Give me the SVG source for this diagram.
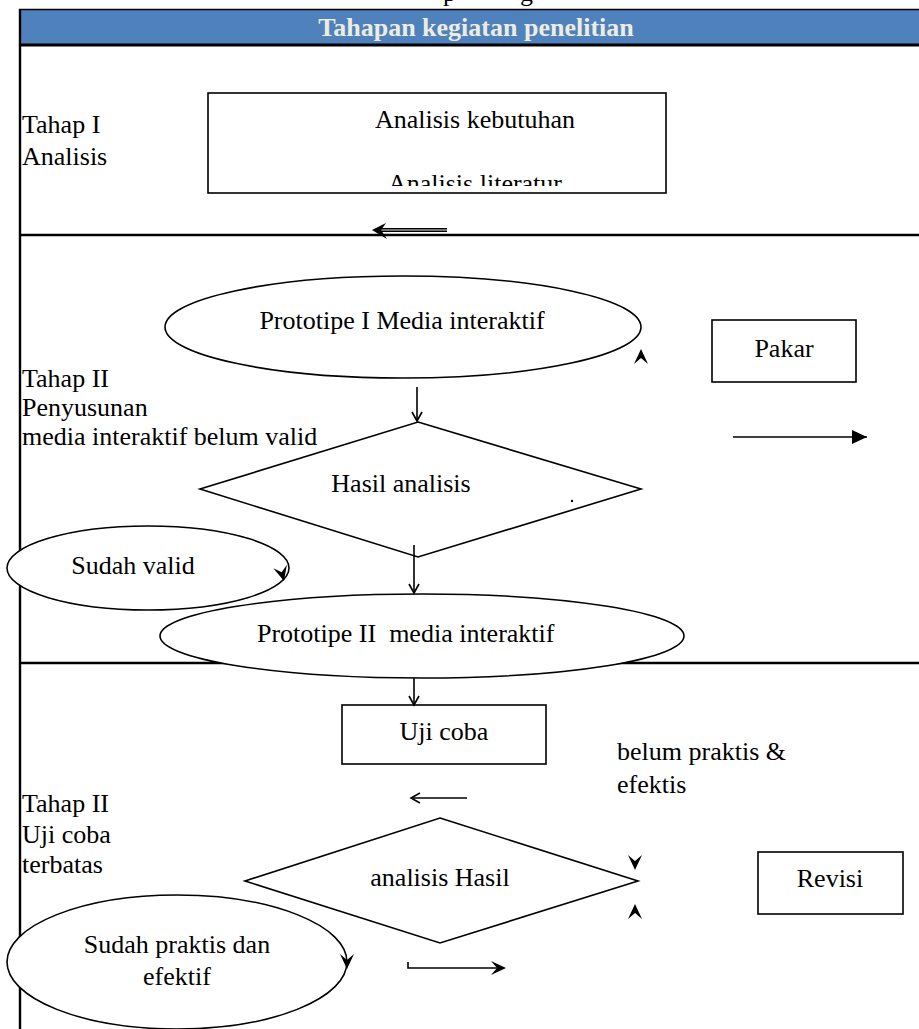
<svg xmlns="http://www.w3.org/2000/svg" width="919" height="1029" viewBox="0 0 919 1029" font-family="Liberation Serif, Times New Roman, serif">
<defs>
<style>
.t{font-size:26px;fill:#000}
.c{text-anchor:middle}
.s{fill:#fff;stroke:#000;stroke-width:1.6}
.ln{stroke:#000;stroke-width:1.6;fill:none}
.frame{stroke:#000;stroke-width:2.4;fill:none}
</style>
<marker id="open" markerUnits="userSpaceOnUse" markerWidth="14" markerHeight="14" refX="10" refY="6" orient="auto">
<path d="M1,1 L10,6 L1,11" fill="none" stroke="#000" stroke-width="1.6"/>
</marker>
<marker id="tri" markerUnits="userSpaceOnUse" markerWidth="16" markerHeight="16" refX="15" refY="8" orient="auto">
<path d="M0,1 L15,8 L0,15 Z" fill="#000"/>
</marker>
<path id="stealth" d="M0,0 L-7,-15 L0,-9 L7,-15 Z" fill="#000"/>
<clipPath id="boxclip"><rect x="208" y="93" width="458" height="93"/></clipPath>
</defs>
<rect x="0" y="0" width="919" height="1029" fill="#fff"/>

<g id="caption-fragment">
<text class="t" font-family="Liberation Serif, serif" x="443" y="1">p</text>
<text class="t" font-family="Liberation Serif, serif" x="520" y="1">g</text>
</g>

<g id="frame">
<rect x="20" y="10" width="899" height="35" fill="#4F81BD"/>
<line stroke="#000" stroke-width="1.6" x1="19" y1="9.5" x2="919" y2="9.5"/>
<line stroke="#000" stroke-width="3" x1="20" y1="45" x2="919" y2="45"/>
<line class="frame" x1="20" y1="9" x2="20" y2="1029"/>
<line class="frame" x1="20" y1="235" x2="919" y2="235"/>
<line class="frame" x1="20" y1="663" x2="919" y2="663"/>
<text x="476" y="36" text-anchor="middle" font-family="Liberation Serif, serif" font-size="26" font-weight="bold" fill="#EEECE1">Tahapan kegiatan penelitian</text>
</g>

<g id="labels" font-family="Liberation Serif, serif">
<text class="t" x="22" y="133">Tahap I</text>
<text class="t" x="22" y="165">Analisis</text>
<text class="t" x="22" y="387">Tahap II</text>
<text class="t" x="22" y="416">Penyusunan</text>
<text class="t" x="22" y="445">media interaktif belum valid</text>
<text class="t" x="22" y="812">Tahap II</text>
<text class="t" x="22" y="843">Uji coba</text>
<text class="t" x="22" y="873">terbatas</text>
<text class="t" x="617" y="760">belum praktis &amp;</text>
<text class="t" x="617" y="793">efektis</text>
</g>

<g id="node-analisis" font-family="Liberation Serif, serif">
<rect class="s" x="208" y="93" width="458" height="100"/>
<text class="t c" x="475" y="128" font-size="25">Analisis kebutuhan</text>
<text class="t c" x="475" y="192" font-size="25" clip-path="url(#boxclip)">Analisis literatur</text>
</g>

<g id="node-prototipe1" font-family="Liberation Serif, serif">
<ellipse class="s" cx="403" cy="327" rx="238" ry="51"/>
<text class="t c" x="402" y="329">Prototipe I Media interaktif</text>
</g>

<g id="node-pakar" font-family="Liberation Serif, serif">
<rect class="s" x="712" y="320" width="144" height="62"/>
<text class="t c" x="784" y="357">Pakar</text>
</g>

<g id="node-hasil-analisis" font-family="Liberation Serif, serif">
<polygon class="s" points="418,422 641,489 418,557 200,489"/>
<text class="t c" x="401" y="492">Hasil analisis</text>
<circle cx="572" cy="501" r="1.2" fill="#000"/>
</g>

<g id="node-sudah-valid" font-family="Liberation Serif, serif">
<ellipse class="s" cx="148" cy="568" rx="141" ry="42"/>
<text class="t c" x="133" y="574">Sudah valid</text>
</g>

<g id="node-prototipe2" font-family="Liberation Serif, serif">
<ellipse class="s" cx="422" cy="636" rx="262" ry="42"/>
<text class="t" x="257" y="642" xml:space="preserve">Prototipe II  media interaktif</text>
</g>

<g id="node-ujicoba" font-family="Liberation Serif, serif">
<rect class="s" x="342" y="705" width="204" height="59"/>
<text class="t c" x="444" y="740">Uji coba</text>
</g>

<g id="node-analisis-hasil" font-family="Liberation Serif, serif">
<polygon class="s" points="440,818 638,881 440,943 245,881"/>
<text class="t c" x="440" y="886">analisis Hasil</text>
</g>

<g id="node-revisi" font-family="Liberation Serif, serif">
<rect class="s" x="758" y="852" width="145" height="62"/>
<text class="t c" x="830" y="887">Revisi</text>
</g>

<g id="node-sudah-praktis" font-family="Liberation Serif, serif">
<ellipse class="s" cx="177" cy="962" rx="170" ry="67"/>
<text class="t c" x="177" y="953">Sudah praktis dan</text>
<text class="t c" x="177" y="985">efektif</text>
</g>

<g id="connectors">
<line x1="378" y1="230" x2="447" y2="230" stroke="#000" stroke-width="4"/>
<line x1="378" y1="230" x2="447" y2="230" stroke="#999" stroke-width="1.4"/>
<path d="M372,230 L386,223 L381,230 L387,239 Z" fill="#000"/>
<line class="ln" x1="417" y1="387" x2="417" y2="421" marker-end="url(#open)"/>
<line class="ln" x1="733" y1="437" x2="867" y2="437" marker-end="url(#tri)"/>
<line class="ln" x1="414" y1="545" x2="414" y2="593" marker-end="url(#open)"/>
<line class="ln" x1="414" y1="678" x2="414" y2="705" marker-end="url(#open)"/>
<line class="ln" x1="467" y1="798" x2="411" y2="798" marker-end="url(#open)"/>
<path class="ln" d="M408,962 V968 H500"/>
<use href="#stealth" transform="translate(506,968) rotate(-90)"/>
<use href="#stealth" transform="translate(641,349) rotate(180)"/>
<use href="#stealth" transform="translate(284,581) rotate(-15)"/>
<use href="#stealth" transform="translate(635,870)"/>
<use href="#stealth" transform="translate(635,904) rotate(180)"/>
<use href="#stealth" transform="translate(347,969)"/>
</g>
</svg>
